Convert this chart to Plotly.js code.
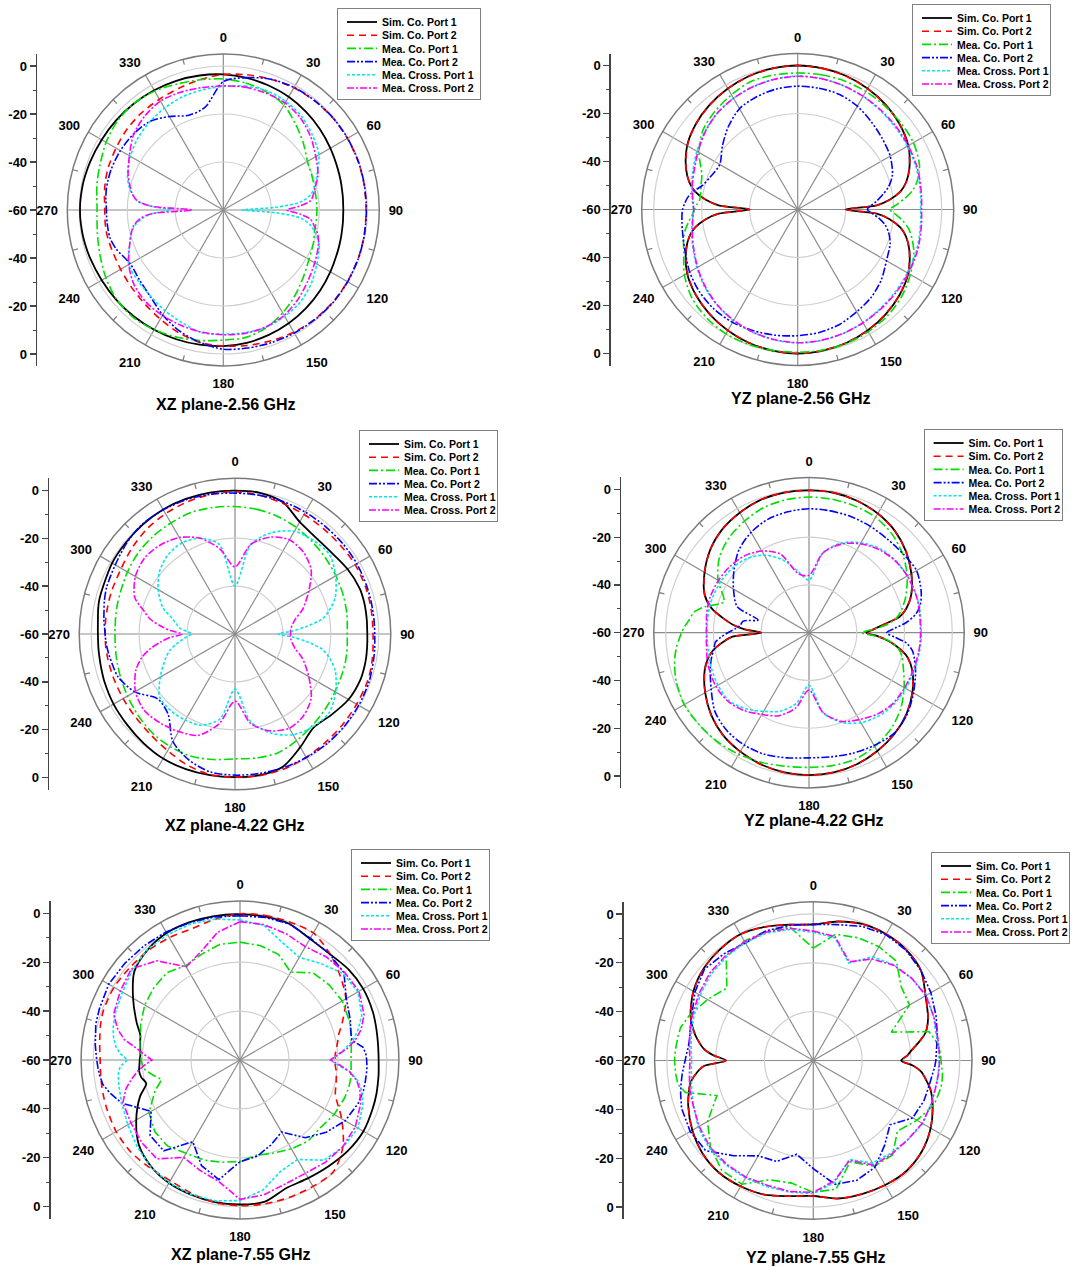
<!DOCTYPE html>
<html>
<head>
<meta charset="utf-8">
<script src="https://cdn.plot.ly/plotly-3.0.1.min.js"></script>
<style>
html,body{margin:0;padding:0;background:#ffffff;}
#chart{width:1073px;height:1267px;}
</style>
</head>
<body>
<div id="chart"></div>
<script>
// ---------------- DATA (dB values) ----------------
const THETA = [0,10,20,30,40,50,60,70, 76,80,84,87,90,93,96,100,104, 110,120,130,140,150,160,170,180,190,200,210,220,230,240,250, 256,260,264,267,270,273,276,280,284, 290,300,310,320,330,340,350,360];
const SERIES_NAMES = ['Sim. Co. Port 1','Sim. Co. Port 2','Mea. Co. Port 1','Mea. Co. Port 2','Mea. Cross. Port 1','Mea. Cross. Port 2'];
const PANEL_TITLES = ['XZ plane-2.56 GHz','YZ plane-2.56 GHz','XZ plane-4.22 GHz','YZ plane-4.22 GHz','XZ plane-7.55 GHz','YZ plane-7.55 GHz'];
const ANGLE_TICKS = [0,30,60,90,120,150,180,210,240,270,300,330];
const ANGLE_LABELS = ['0','30','60','90','120','150','180','210','240','270','300','330'];
const DB_TICKS = [-60,-40,-20,0,20,40,60];
const DB_LABELS = ['0','-20','-40','-60','-40','-20','0'];

// XZ plane 2.56 GHz
const xz256_simCo1 = [-3.5,-4.1,-4.8,-5.5,-6.5,-7.5,-8.5,-9.3, -9.6,-9.8,-9.9,-10,-10,-10,-9.9,-9.8,-9.6, -9.3,-8.5,-7.5,-6.5,-5.5,-4.6,-3.8,-3.3,-3,-2.7,-2.4,-2.1,-1.8,-1.5,-1, -0.7,-0.5,-0.4,-0.3,-0.3,-0.3,-0.4,-0.5,-0.7, -1,-1.5,-1.8,-2.1,-2.4,-2.7,-3.1,-3.5];
const xz256_simCo2 = [-3.5,-2.8,-2,-1.2,-0.7,-0.4,-0.3,-0.3, -0.4,-0.4,-0.5,-0.5,-0.5,-0.5,-0.5,-0.4,-0.4, -0.3,-0.3,-0.4,-0.7,-1.2,-2,-2.7,-3.3,-4,-5.6,-7.5,-9,-10,-10.6,-10.7, -10.5,-10.4,-10.5,-10.6,-10.6,-10.5,-10.2,-9.8,-9.4, -8.9,-8.4,-7.6,-7.1,-6.7,-6,-4.8,-3.5];
const xz256_meaCo1 = [-5.4,-6.3,-7.6,-9.5,-13.2,-16.5,-19.5,-20.5, -20.9,-21,-21,-21,-21,-21,-21,-21,-20.9, -20,-18.8,-16.5,-13.5,-10.5,-7.8,-6.1,-5.8,-4.8,-3.6,-2.4,-1.6,-2,-3.5,-5.3, -6.2,-6.7,-7.1,-7.3,-7.4,-7.3,-7,-6.5,-6, -5.3,-3.6,-2.4,-2,-2.8,-4.1,-4.9,-5.4];
const xz256_meaCo2 = [-6.5,-4,-2,-1,-0.6,-0.3,-0.2,-0.2, -0.3,-0.3,-0.4,-0.4,-0.4,-0.4,-0.4,-0.3,-0.3, -0.2,-0.2,-0.2,-0.5,-0.8,-1.2,-1.6,-2,-4,-6.4,-9.5,-12.8,-14.5,-15.2,-12.5, -11.4,-11.3,-11.3,-11.3,-11.3,-11.1,-10.8,-10.5,-10.4, -10.3,-10.5,-11,-12,-15,-18,-16.5,-6.5];
const xz256_crossP1 = [-8.5,-7.6,-7.1,-7.8,-9.2,-11.5,-14,-18.5, -20.9,-23,-27.5,-38,-52,-38,-27.5,-23,-20.5, -17.5,-15,-12.2,-10,-8.8,-8,-8.1,-8.3,-8.1,-10,-11.5,-13,-13.8,-14.5,-18.5, -20.5,-22.5,-26,-30,-38,-30,-24,-21.5,-19.5, -17.5,-15.3,-13.5,-12.2,-11,-9.9,-9.2,-8.5];
const xz256_crossP2 = [-8.3,-8,-8.2,-8.5,-10,-12.5,-15.5,-18, -20.5,-21.8,-23.5,-28,-33.5,-28,-23.5,-21.5,-19.5, -17.8,-16,-14,-11.5,-9.3,-8.2,-7.8,-8,-8.3,-8.8,-9.3,-9.9,-11.5,-14.5,-18.5, -20.5,-22,-25,-30,-47,-30,-24,-21.5,-20, -17.8,-14.8,-11.2,-9,-7.6,-7.8,-8.2,-8.3];

// YZ plane 2.56 GHz
const yz256_simCo1 = [0,-0.3,-0.8,-1.8,-3,-4.6,-6.8,-10.5, -13.5,-16.5,-21.5,-27,-40,-27,-21.5,-16.5,-13.5, -10.5,-6.8,-4.6,-3,-1.8,-0.8,-0.3,0,-0.3,-0.8,-1.8,-3,-4.6,-6.8,-10.5, -13.5,-16.5,-21.5,-27,-40,-27,-21.5,-16.5,-13.5, -10.5,-6.8,-4.6,-3,-1.8,-0.8,-0.3,0];
const yz256_simCo2 = [0,-0.3,-0.9,-1.8,-3.1,-4.6,-6.9,-10.5, -13.5,-16.5,-21.5,-27,-40,-27,-21.5,-16.5,-13.5, -10.5,-6.9,-4.6,-3.1,-1.8,-0.9,-0.3,0,-0.3,-0.9,-1.8,-3.1,-4.6,-6.9,-10.5, -13.5,-16.5,-21.5,-27,-40,-27,-21.5,-16.5,-13.5, -10.5,-6.9,-4.6,-3.1,-1.8,-0.9,-0.3,0];
const yz256_meaCo1 = [-3.1,-3,-3,-3.2,-3.6,-3.9,-4.3,-6, -8.5,-11,-15,-18.5,-21.6,-19,-16,-13,-11, -8.5,-5.8,-3.5,-2,-1.2,-0.6,-0.5,-0.5,-0.4,-0.2,-0.2,-1,-2.5,-5.5,-9.5, -11,-12.5,-14.5,-16,-17,-18,-19,-19,-18.5, -17.5,-12.5,-8.5,-6.5,-4.8,-3.2,-3.1,-3.1];
const yz256_meaCo2 = [-8.6,-8.7,-9,-10.3,-12.3,-14,-15.5,-18, -21,-24,-27,-29.5,-31,-29,-26,-23,-21, -19,-17.3,-14.5,-12.3,-10.8,-9,-8,-7.4,-6.8,-6.2,-5.7,-5.8,-6.6,-8,-10, -10.8,-11.2,-11.5,-11.7,-12,-12.8,-13.8,-16,-19, -21,-22.5,-19,-15,-11.5,-10,-9,-8.6];
const yz256_crossP1 = [-4.4,-4.5,-5,-5.6,-6.3,-6.8,-7.2,-7.6, -8,-8.3,-8.5,-8.7,-8.8,-8.7,-8.5,-8.3,-8, -7.6,-7.2,-6.8,-6.3,-5.6,-5,-4.5,-4.4,-4.8,-5.5,-6.5,-7.8,-9.5,-11.5,-13.5, -14.5,-15.2,-15.8,-16.2,-16.5,-16.2,-15.8,-15.2,-14.5, -13.5,-11.5,-9.5,-7.8,-6.5,-5.5,-4.8,-4.4];
const yz256_crossP2 = [-4.5,-4.6,-5,-5.5,-6,-6.4,-6.8,-7.2, -7.6,-7.9,-8.1,-8.3,-8.4,-8.3,-8.1,-7.9,-7.6, -7.2,-6.8,-6.4,-6,-5.5,-5,-4.6,-4.5,-4.9,-5.6,-6.7,-8,-9.8,-11.8,-13.8, -14.8,-15.5,-16,-16.4,-16.7,-16.4,-16,-15.5,-14.8, -14,-12,-9.7,-7.7,-6.5,-5.6,-4.9,-4.5];

// XZ plane 4.22 GHz
const xz422_simCo1 = [-0.2,-0.2,-1.5,-6,-7.5,-7.3,-5.8,-4.6, -4.5,-4.6,-4.7,-4.8,-4.8,-4.7,-4.6,-4.4,-4.3, -4.3,-5.3,-7.5,-9,-5.5,-1.2,-0.2,-0.3,-0.2,0,0,-0.6,-1.2,-1.5,-2, -2.4,-2.6,-2.7,-2.8,-2.8,-2.7,-2.5,-2,-1.6, -1.5,-0.8,-0.6,-0.3,0,0,-0.1,-0.2];
const xz422_simCo2 = [-0.6,-1.2,-2,-2.4,-2.6,-2.5,-2.1,-2.1, -2.2,-2.3,-2.4,-2.4,-2.4,-2.3,-2.1,-1.8,-1.5, -1.3,-1.4,-1.3,-1.1,-0.6,-0.1,0,-0.3,-0.4,-1.8,-3.8,-5.2,-5.9,-6.1,-6.1, -6,-5.9,-5.8,-5.8,-5.8,-5.8,-5.7,-5.7,-5.6, -5.5,-5.2,-4,-2.8,-2,-1.4,-0.9,-0.6];
const xz422_meaCo1 = [-6.8,-7.2,-7.8,-8.7,-9.8,-10.7,-11.4,-12, -12.4,-12.6,-12.9,-13.1,-13.2,-13.1,-12.9,-12.7,-12.5, -12.3,-11.8,-11,-10,-8.6,-7.3,-7.5,-7.9,-6.8,-5.8,-5.8,-6.2,-7.2,-8.2,-9, -9.4,-9.6,-9.8,-9.9,-9.9,-9.9,-9.8,-9.6,-9.4, -9.1,-8.2,-7.3,-6.8,-6.5,-6.1,-6.4,-6.8];
const xz422_meaCo2 = [-1.2,-1.2,-1.2,-1.3,-1.4,-1.3,-1.3,-1.5, -1.6,-1.7,-1.7,-1.7,-1.7,-1.6,-1.4,-1.2,-1, -0.6,-0.4,-0.3,-0.3,-0.5,-0.7,-0.9,-1.1,-1.5,-4,-8.2,-16.5,-17.9,-11.7,-8, -7.3,-6.8,-6.3,-6,-5.8,-5.5,-5,-4.5,-3.8, -3,-2.3,-1,0,-0.2,-0.4,-0.8,-1.2];
const xz422_crossP1 = [-40,-22,-15,-10.5,-9,-8.5,-11.5,-15.5, -19.5,-22.8,-30,-36,-42,-36,-30,-23,-19.5, -15.5,-11.5,-8.8,-9.5,-11.5,-16,-23,-37,-24,-19.5,-18.5,-18.3,-19,-24,-29, -32,-35,-38,-40,-42,-40,-37,-35,-33, -28,-23,-19,-16.7,-16,-17.5,-22,-40];
const xz422_crossP2 = [-32,-22,-17,-14.6,-15.5,-18.5,-24.5,-30, -34,-35.5,-36.5,-36.8,-36.8,-36.8,-36.5,-35.5,-34, -30,-24.5,-18.5,-15.5,-14.6,-17,-22,-32,-22,-15,-13,-11.5,-10.5,-12,-16, -20,-24,-29,-33,-38,-33,-29,-24,-21, -15.5,-12,-10.7,-11.5,-13.5,-17.5,-24,-32];

// YZ plane 4.22 GHz
const yz422_simCo1 = [-0.4,-0.5,-1.2,-2.4,-4.2,-7,-10.5,-14.5, -18,-21.5,-29,-33,-36,-31,-26.5,-21.5,-17.5, -14,-10,-6.8,-4.5,-2.8,-1.4,-0.6,-0.4,-0.6,-1.3,-2.5,-4,-6.5,-9.8,-13.5, -16.5,-19.5,-24,-28,-40,-33,-28,-23,-18, -13.5,-9.5,-6,-3.5,-2,-0.8,-0.4,-0.4];
const yz422_simCo2 = [-0.4,-0.5,-1.2,-2.4,-4.2,-7,-10.5,-14.5, -18,-21.5,-29,-33,-36,-31,-26.5,-21.5,-17.5, -14,-10,-6.8,-4.5,-2.8,-1.4,-0.6,-0.4,-0.6,-1.3,-2.5,-4,-6.5,-9.8,-13.5, -16.5,-19.5,-24,-28,-40,-33,-28,-23,-18, -13.5,-9.5,-6,-3.5,-2,-0.8,-0.4,-0.4];
const yz422_meaCo1 = [-3.2,-3.3,-3.6,-4.2,-6,-8.8,-12.5,-17, -20,-22.5,-27,-33,-38,-32,-26,-22,-20, -18,-14,-10,-7,-5,-3.6,-3.5,-3.6,-3.2,-2.2,-1.2,-0.4,0,0.3,-0.8, -2,-3,-4.3,-5.5,-6.6,-8,-9.5,-11,-15, -22,-16,-11,-8,-6,-4.3,-3.5,-3.2];
const yz422_meaCo2 = [-8.1,-8.2,-8.3,-8.6,-8.9,-8.6,-8,-10, -12,-14.5,-19,-24,-27.5,-24,-19,-16,-14.5, -12.5,-9.5,-6.5,-4.8,-5.5,-6.3,-7.2,-7.6,-6.8,-5.8,-5.7,-6.5,-8.6,-12.7,-16, -18,-19.5,-20.5,-23,-26,-29,-31,-32,-38, -28,-23.5,-19,-14.5,-11.5,-9.5,-8.6,-8.1];
const yz422_crossP1 = [-38,-26,-20,-16.5,-14,-12.8,-12.4,-12.4, -12.5,-12.7,-12.9,-13,-13,-13,-13,-13.1,-13.1, -13.2,-13.3,-13.5,-14.5,-16.5,-20,-26,-38,-30,-25,-22,-18.5,-16,-16,-16.5, -17,-17.2,-17.2,-17.2,-17.2,-17.2,-17.2,-17.1,-17, -17,-17.3,-18,-19.5,-22.5,-27.5,-34,-38];
const yz422_crossP2 = [-36,-26,-20.5,-17,-14.5,-13,-12.5,-12.5, -12.7,-13,-13.2,-13.3,-13.3,-13.3,-13.3,-13.4,-13.5, -13.6,-13.8,-14,-15.5,-18,-20.5,-26,-36,-28,-23,-20.5,-17.5,-15.5,-15,-15.5, -16,-16.5,-16.8,-17,-17,-17,-16.8,-16.5,-16.2, -16,-16.2,-16.8,-18,-20.5,-25,-35,-36];

// XZ plane 7.55 GHz
const xz755_simCo1 = [-0.4,-0.5,-0.8,-2.8,-3.2,-2.2,-1.8,-2.2, -2.7,-3,-3.2,-3.3,-3.3,-3.2,-3,-2.8,-2.5, -2.2,-1.7,-2.3,-3.4,-4.2,-4.3,-1.2,-0.9,-1,-1.4,-1.9,-3.3,-6,-11,-16.5, -20.5,-19,-18.5,-18.8,-19,-19.2,-19,-18.5,-18, -15,-9.5,-3.6,-1.2,0,0,-0.2,-0.4];
const xz755_simCo2 = [-0.2,0,0,0,-3,-6.5,-10,-15.5, -18.5,-19.5,-20.5,-21,-21,-21,-20.5,-20,-19.5, -18.5,-12,-5,-0.5,-0.3,-0.3,-0.3,-0.4,-0.8,-2,-3,-2.5,-1.6,-1.5,-2, -2.3,-2.5,-2.7,-2.8,-2.8,-2.6,-2.3,-1.8,-1.2, -0.6,-0.5,-1.2,-1.6,-2.2,-2.8,-1.5,-0.2];
const xz755_meaCo1 = [-11.8,-12.5,-14,-18.5,-13.5,-12.3,-11.7,-12.5, -13.1,-13.8,-14.2,-14.5,-14.6,-14.5,-14.3,-14.1,-14.1, -14.5,-15.5,-17,-16.7,-18,-19.5,-20.5,-18.5,-17.5,-16.5,-16,-14,-14.5,-17,-23, -27,-24,-21,-20,-19.6,-19.2,-18.8,-18.4,-18, -16.8,-15,-14,-13.4,-15.5,-14,-12,-11.8];
const xz755_meaCo2 = [-1,-0.8,-0.8,-2.5,-3.2,-4.5,-9.8,-12, -13.3,-13.5,-9.5,-8.5,-8.2,-8,-8,-8,-8, -8.5,-10.3,-14,-18.5,-26,-23,-20,-18.4,-10.3,-14,-21.4,-11.5,-12,-18,-8.5, -5,-3,-2.2,-1.8,-1.4,-1,-0.5,0,0.8, 1.2,2,1.5,1,0.5,-0.2,-0.6,-1];
const xz755_crossP1 = [-2.7,-4,-9,-11.5,-8.5,-5,-4.3,-7, -10.4,-13,-17,-20,-23,-20,-15,-11,-8.7, -6.5,-4.3,-4.8,-6.5,-13,-11.5,-6,-2.5,-1.5,-1.5,-2,-3,-5,-7,-8.5, -9.2,-9.5,-10,-11,-14,-11,-9,-7.5,-6.5, -5.5,-4.5,-2.5,-1,-0.8,-0.8,-1.5,-2.7];
const xz755_crossP2 = [-3.4,-3.8,-5,-6.5,-5,-4.2,-3.8,-6, -9,-12,-16,-20,-23,-19,-15,-11.5,-9.5, -7.5,-5.5,-5,-5.5,-6.5,-6,-4,-3,-9.6,-12,-14,-7.2,-7.5,-8.5,-9, -12,-15,-18,-21,-24,-21,-18,-12,-8.5, -5,-3.5,-2,-7,-16,-13,-7,-3.4];

// YZ plane 7.55 GHz
const yz755_simCo1 = [-4.3,-2.2,-0.6,-0.3,-0.8,-2.5,-6.9,-10, -12.6,-16,-19.5,-21.5,-24,-19,-15.5,-13,-10.5, -8,-4.5,-2,-0.8,-1.1,-1.8,-2.6,-4.5,-3.6,-1.5,-0.5,0,-0.8,-2.8,-5.5, -7.5,-9,-12,-15,-24.3,-19,-15,-12,-9.5, -6.5,-3.3,-1.4,-0.6,-0.3,-1.8,-3.5,-4.3];
const yz755_simCo2 = [-4.3,-2.2,-0.6,-0.3,-0.8,-2.5,-6.9,-10, -12.6,-16,-19.5,-21.5,-24,-19,-15.5,-13,-10.5, -8,-4.5,-2,-0.8,-1.1,-1.8,-2.6,-4.5,-3.6,-1.5,-0.5,0,-0.8,-2.8,-5.5, -7.5,-9,-12,-15,-24.3,-19,-15,-12,-9.5, -6.5,-3.3,-1.4,-0.6,-0.3,-1.8,-3.5,-4.3];
const yz755_meaCo1 = [-14,-7.5,-6.5,-6.2,-7,-13,-14.5,-26, -11.2,-9.5,-8.2,-7.8,-7.7,-7.3,-6.8,-6.5,-6.8, -7.3,-11,-15,-9.5,-10,-15.8,-6.5,-6,-9,-8,-1.5,-1.5,-5,-10,-18, -6,-3.7,-3.4,-3.3,-3.2,-3.3,-3.5,-3.7,-4, -6,-10,-13.8,-4.5,-3.5,-3.5,-4.5,-14];
const yz755_meaCo2 = [-4.2,-3.5,-1.5,-0.5,-1,-2.5,-4.4,-6.5, -7.8,-8.5,-9.2,-9.6,-9.8,-10.2,-10.8,-11.3,-11.6, -11.8,-13,-19,-14.6,-9.5,-7.8,-8.5,-15.7,-21,-16,-14.9,-9.1,-2.5,-1.8,-2.6, -4,-5,-6,-6.8,-7.5,-8,-8.5,-8.6,-8, -7,-4,-1.8,-3,-4.4,-3.5,-3.8,-4.2];
const yz755_crossP1 = [-7.5,-9,-17.5,-11,-8.8,-7.5,-6.5,-7.5, -8.5,-8.5,-8.4,-8.4,-8.4,-8.5,-8.6,-8.7,-8.8, -8.5,-8.2,-9.5,-10.5,-11.5,-16.9,-9.3,-5.5,-5.2,-5,-4.4,-4.2,-4.3,-5.5,-7.7, -8.7,-9.3,-9.8,-10,-10.2,-10,-9.7,-9.2,-8.7, -7.9,-6.5,-5.2,-4.6,-4.2,-4.4,-5.5,-7.5];
const yz755_crossP2 = [-7,-8.5,-17,-12,-9,-7.5,-6.8,-7.5, -8,-8.2,-8.3,-8.3,-8.3,-8.4,-8.5,-8.6,-8.7, -8.5,-8.5,-9.5,-10,-10.5,-16.5,-10,-6,-5.5,-5.5,-4.8,-4.6,-4.8,-6,-7.5, -8,-8.5,-9,-9.3,-9.5,-9.3,-9,-8.5,-8, -7.2,-5.8,-4.5,-4,-3.8,-4,-5,-7];

const PANEL_SERIES = [
  [xz256_simCo1, xz256_simCo2, xz256_meaCo1, xz256_meaCo2, xz256_crossP1, xz256_crossP2],
  [yz256_simCo1, yz256_simCo2, yz256_meaCo1, yz256_meaCo2, yz256_crossP1, yz256_crossP2],
  [xz422_simCo1, xz422_simCo2, xz422_meaCo1, xz422_meaCo2, xz422_crossP1, xz422_crossP2],
  [yz422_simCo1, yz422_simCo2, yz422_meaCo1, yz422_meaCo2, yz422_crossP1, yz422_crossP2],
  [xz755_simCo1, xz755_simCo2, xz755_meaCo1, xz755_meaCo2, xz755_crossP1, xz755_crossP2],
  [yz755_simCo1, yz755_simCo2, yz755_meaCo1, yz755_meaCo2, yz755_crossP1, yz755_crossP2]
];

// ---------------- LAYOUT / STYLE ----------------
const W = 1073, H = 1267;
const FONT = "'Liberation Sans', Arial, Helvetica, sans-serif";
const PANELS = [
  {cx:223.3, cy:210,    r0:144,   axisX:37,    legX:337,   legY:8,   tx:226,   ty:404},
  {cx:797.7, cy:209.5,  r0:144,   axisX:610.6, legX:912,   legY:4,   tx:800.6, ty:399},
  {cx:235,   cy:634,    r0:143.8, axisX:48.8,  legX:359,   legY:430, tx:235.4, ty:825},
  {cx:809,   cy:632.7,  r0:143.3, axisX:621,   legX:923.6, legY:429, tx:814,   ty:820},
  {cx:240,   cy:1060,   r0:146.7, axisX:50.5,  legX:351,   legY:849, tx:240.5, ty:1254},
  {cx:813.3, cy:1060.5, r0:146.5, axisX:623.6, legX:931,   legY:852, tx:816,   ty:1257}
];
const STYLES = [
  {color:'#000000', dash:'solid', width:1.8},
  {color:'#ff0000', dash:'7px,5px', width:1.6},
  {color:'#00dd00', dash:'9px,3px,2px,3px', width:1.6},
  {color:'#0000ff', dash:'8px,2px,2px,2px,2px,2px', width:1.6},
  {color:'#00e8e8', dash:'3px,2px', width:1.6},
  {color:'#ff00ff', dash:'7px,2px,2px,2px', width:1.6}
];
const MINOR_ANGLES = [15,45,75,105,135,165,195,225,255,285,315,345];

const traces = [];
const layout = {
  width: W, height: H,
  margin: {l:0, r:0, t:0, b:0},
  paper_bgcolor: '#ffffff',
  plot_bgcolor: 'rgba(0,0,0,0)',
  hovermode: false,
  showlegend: true,
  font: {family: FONT, color: '#000000'},
  annotations: []
};

PANELS.forEach((p, i) => {
  const n = i + 1;
  const pid = n === 1 ? 'polar' : 'polar' + n;
  const oid = 'polar' + (n + 6);
  const lid = n === 1 ? 'legend' : 'legend' + n;
  const xid = n === 1 ? 'x' : 'x' + n;
  const yid = n === 1 ? 'y' : 'y' + n;
  const R = p.r0 * 65 / 60;
  const domX = [(p.cx - R) / W, (p.cx + R) / W];
  const domY = [1 - (p.cy + R) / H, 1 - (p.cy - R) / H];

  layout[pid] = {
    domain: {x: domX, y: domY},
    bgcolor: 'rgba(0,0,0,0)',
    angularaxis: {
      rotation: 90, direction: 'clockwise',
      tickmode: 'array', tickvals: ANGLE_TICKS, ticktext: ANGLE_LABELS,
      ticks: 'outside', ticklen: 6, tickcolor: 'rgba(0,0,0,0)',
      showgrid: true, gridcolor: '#8c8c8c', gridwidth: 1.2,
      showline: true, linecolor: '#7a7a7a', linewidth: 1.5,
      tickfont: {family: FONT, size: 13, weight: 'bold', color: '#000'}
    },
    radialaxis: {
      range: [-60, 5], autorange: false,
      tickmode: 'array', tickvals: [-40, -20, 0],
      showticklabels: false, ticks: '',
      showgrid: true, gridcolor: '#cfcfcf', gridwidth: 1.2,
      showline: false
    }
  };
  layout[oid] = {
    domain: {x: domX, y: domY},
    bgcolor: 'rgba(0,0,0,0)',
    angularaxis: {
      rotation: 90, direction: 'clockwise',
      tickmode: 'array', tickvals: MINOR_ANGLES, ticktext: MINOR_ANGLES.map(() => ''),
      ticks: 'inside', ticklen: 5, tickcolor: '#7a7a7a', tickwidth: 1.2,
      showticklabels: false, showgrid: false, showline: false
    },
    radialaxis: {visible: false, range: [-60, 5], autorange: false}
  };

  layout[n === 1 ? 'xaxis' : 'xaxis' + n] = {
    domain: [p.axisX / W, p.axisX / W + 0.004], range: [0, 1],
    anchor: yid, visible: false, fixedrange: true
  };
  layout[n === 1 ? 'yaxis' : 'yaxis' + n] = {
    domain: domY, range: [-65, 65], autorange: false, anchor: xid,
    tickmode: 'array', tickvals: DB_TICKS, ticktext: DB_LABELS,
    ticks: 'outside', ticklen: 6, tickwidth: 1.2, tickcolor: '#444',
    minor: {tickvals: [-50, -30, -10, 10, 30, 50], ticks: 'outside', ticklen: 3, tickcolor: '#444', tickwidth: 1},
    showline: true, linecolor: '#444', linewidth: 1.3,
    showgrid: false, zeroline: false, fixedrange: true,
    tickfont: {family: FONT, size: 13, weight: 'bold', color: '#000'}
  };
  traces.push({type: 'scatter', x: [], y: [], xaxis: xid, yaxis: yid, showlegend: false, hoverinfo: 'skip'});

  PANEL_SERIES[i].forEach((rv, k) => {
    const st = STYLES[k];
    const smooth = (k < 2) || (n <= 4);
    traces.push({
      type: 'scatterpolar', subplot: pid, mode: 'lines',
      theta: THETA, r: rv, name: SERIES_NAMES[k], legend: lid,
      line: {color: st.color, width: st.width, dash: st.dash, shape: smooth ? 'spline' : 'linear', smoothing: 0.8},
      hoverinfo: 'skip'
    });
  });
  traces.push({type: 'scatterpolar', subplot: oid, r: [], theta: [], mode: 'lines', showlegend: false, hoverinfo: 'skip'});

  layout[lid] = {
    x: p.legX / W, y: 1 - p.legY / H, xanchor: 'left', yanchor: 'top',
    bgcolor: '#ffffff', bordercolor: '#808080', borderwidth: 1,
    font: {family: FONT, size: 10.5, weight: 'bold', color: '#000'},
    tracegroupgap: 0, itemwidth: 30
  };

  layout.annotations.push({
    text: PANEL_TITLES[i], xref: 'paper', yref: 'paper',
    x: p.tx / W, y: 1 - p.ty / H, xanchor: 'center', yanchor: 'middle',
    showarrow: false, font: {family: FONT, size: 16, weight: 'bold', color: '#000'}
  });
});

// Tighten legend rows to the compact spacing of the original figure
function compressLegends(gd) {
  const ROW0 = 13.5, STEP = 13.2, PADB = 11.5, SHIFT = 4, PADR = 7;
  gd.querySelectorAll('g.infolayer > g').forEach(g => {
    const cls = g.getAttribute('class') || '';
    if (!/^legend\d*$/.test(cls)) return;
    const bg = g.querySelector('rect.bg');
    const items = Array.from(g.querySelectorAll('g.traces'));
    if (!bg || !items.length) return;
    const sb = g.querySelector('g.scrollbox');
    if (sb) sb.removeAttribute('clip-path');
    const bgBox = bg.getBoundingClientRect();
    let maxRight = 0;
    items.forEach((t, j) => {
      const m = /translate\(\s*([-\d.e]+)[ ,]+([-\d.e]+)\s*\)/.exec(t.getAttribute('transform') || '');
      const x0 = m ? parseFloat(m[1]) : 0, y0 = m ? parseFloat(m[2]) : 0;
      const refEl = t.querySelector('.legendlines path') || t.querySelector('text.legendtext');
      const rb = refEl.getBoundingClientRect();
      const cy = rb.top + rb.height / 2;
      const want = bgBox.top + ROW0 + j * STEP;
      t.setAttribute('transform', 'translate(' + (x0 + SHIFT) + ',' + (y0 + (want - cy)) + ')');
      const txt = t.querySelector('text.legendtext');
      if (txt) maxRight = Math.max(maxRight, txt.getBoundingClientRect().right - bgBox.left);
    });
    bg.setAttribute('height', ROW0 + (items.length - 1) * STEP + PADB);
    if (maxRight > 0) bg.setAttribute('width', maxRight + PADR);
  });
}

const gdiv = document.getElementById('chart');
Plotly.newPlot(gdiv, traces, layout, {displayModeBar: false, staticPlot: true}).then(() => compressLegends(gdiv));
</script>
</body>
</html>
